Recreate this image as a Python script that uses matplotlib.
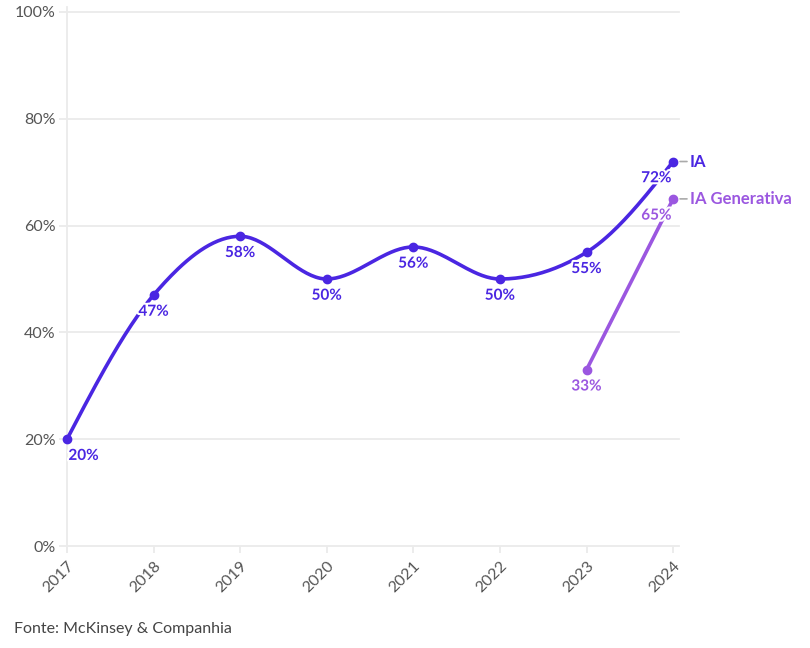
import numpy as np
import matplotlib
matplotlib.use("Agg")
from matplotlib import pyplot as plt
import matplotlib.patheffects as pe
from matplotlib.transforms import offset_copy

years = [2017, 2018, 2019, 2020, 2021, 2022, 2023, 2024]
ia = [20, 47, 58, 50, 56, 50, 55, 72]
gen_years = [2023, 2024]
ia_gen = [33, 65]
y_ticks = [0, 20, 40, 60, 80, 100]

c_ia = '#4a26e2'
c_gen = '#9b57e0'

plt.rcParams['font.family'] = ['Lato', 'DejaVu Sans']


def monotone_x(x, y, n=40):
    # same idea as d3.curveMonotoneX
    x = np.asarray(x, float)
    y = np.asarray(y, float)
    h = np.diff(x)
    s = np.diff(y) / h
    t = np.zeros(len(x))
    for i in range(1, len(x) - 1):
        p = (s[i - 1] * h[i] + s[i] * h[i - 1]) / (h[i - 1] + h[i])
        t[i] = (np.sign(s[i - 1]) + np.sign(s[i])) * min(abs(s[i - 1]), abs(s[i]), 0.5 * abs(p))
    t[0] = (3 * s[0] - t[1]) / 2
    t[-1] = (3 * s[-1] - t[-2]) / 2
    xs, ys = [], []
    u = np.linspace(0, 1, n)
    b = [(1 - u) ** 3, 3 * (1 - u) ** 2 * u, 3 * (1 - u) * u ** 2, u ** 3]
    for i in range(len(x) - 1):
        dx = h[i] / 3
        px = [x[i], x[i] + dx, x[i + 1] - dx, x[i + 1]]
        py = [y[i], y[i] + dx * t[i], y[i + 1] - dx * t[i + 1], y[i + 1]]
        xs.append(sum(b[k] * px[k] for k in range(4)))
        ys.append(sum(b[k] * py[k] for k in range(4)))
    return np.concatenate(xs), np.concatenate(ys)


fig = plt.figure(figsize=(8.1, 6.48), dpi=100)
ax = fig.add_axes([0.0827, 0.1574, 0.7483, 0.8241])
ax.set_xlim(2017, 2024)
ax.set_ylim(0, 100)

for s in ax.spines.values():
    s.set_visible(False)
for v in y_ticks:
    ax.plot([2017, 2024.07], [v, v], color='#ebebeb', lw=1.3, zorder=0, clip_on=False)
ax.plot([2017, 2017], [-1.2, 101], color='#ebebeb', lw=1.3, zorder=0, clip_on=False)

ax.set_yticks(y_ticks)
ax.set_yticklabels([f'{v}%' for v in y_ticks], color='#555555', fontsize=11.5)
ax.tick_params(axis='y', length=6, color='#ebebeb', width=1.3, pad=2)
ax.set_xticks(years)
ax.set_xticklabels([str(y) for y in years], rotation=45, ha='right', rotation_mode='anchor',
                   color='#555555', fontsize=11.5)
ax.tick_params(axis='x', length=5, color='#ebebeb', width=1.3, pad=4)

halo = [pe.withStroke(linewidth=3, foreground='white')]

sx, sy = monotone_x(years, ia)
ax.plot(sx, sy, color=c_ia, lw=2.6, clip_on=False, zorder=3, solid_capstyle='round')
ax.scatter(years, ia, s=36, color=c_ia, zorder=4, clip_on=False)
ax.plot(gen_years, ia_gen, color=c_gen, lw=2.6, clip_on=False, zorder=3, solid_capstyle='round')
ax.scatter(gen_years, ia_gen, s=36, color=c_gen, zorder=4, clip_on=False)

for i, (x, v) in enumerate(zip(years, ia)):
    dx = 0
    if i == 0:
        dx = 12
    elif i == len(years) - 1:
        dx = -12
    ax.annotate(f'{v}%', (x, v), xytext=(dx, -7), textcoords='offset points',
                ha='center', va='top', color=c_ia, fontsize=11, fontweight='bold',
                path_effects=halo, zorder=5)
for i, (x, v) in enumerate(zip(gen_years, ia_gen)):
    dx = -12 if i == len(gen_years) - 1 else 0
    ax.annotate(f'{v}%', (x, v), xytext=(dx, -7), textcoords='offset points',
                ha='center', va='top', color=c_gen, fontsize=11, fontweight='bold',
                path_effects=halo, zorder=5)

# series names at the line ends, with a short grey dash
ends = [('IA', years[-1], ia[-1], c_ia), ('IA Generativa', gen_years[-1], ia_gen[-1], c_gen)]
dash_a = offset_copy(ax.transData, fig=fig, x=5, y=0, units='points')
dash_b = offset_copy(ax.transData, fig=fig, x=10, y=0, units='points')
for name, x, v, c in ends:
    ax.annotate('', xy=(x, v), xycoords=dash_b, xytext=(x, v), textcoords=dash_a,
                arrowprops=dict(arrowstyle='-', color='#aaaaaa', lw=1.2, shrinkA=0, shrinkB=0))
    ax.annotate(name, (x, v), xytext=(12, 0), textcoords='offset points',
                ha='left', va='center', color=c, fontsize=12, fontweight='bold')

fig.text(14 / 810, 1 - 629 / 648, 'Fonte: McKinsey & Companhia', color='#444444', fontsize=11.5,
         ha='left', va='center')

fig.savefig('out.png', dpi=100, facecolor='white')
